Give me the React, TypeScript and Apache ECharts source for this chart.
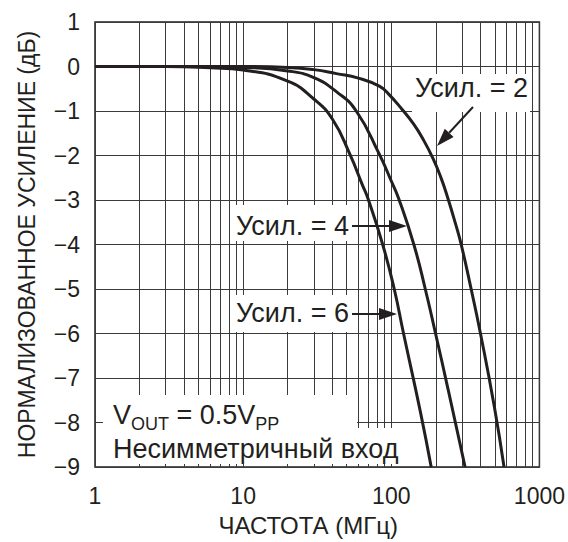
import React, { useEffect, useRef } from "react";
import * as echarts from "echarts";

const freqGain2 = [1, 10, 20, 30, 42.6, 60, 83, 96, 118, 141.3, 163.6, 191.5, 217.6, 241, 270.7, 296.5, 346, 400, 496, 577];
const valGain2 = [0, 0, -0.02, -0.07, -0.16, -0.26, -0.44, -0.62, -0.96, -1.29, -1.63, -2.07, -2.52, -2.96, -3.52, -4.0, -5.0, -6.0, -7.64, -9.0];

const freqGain4 = [1, 5, 10, 20, 30, 42.8, 58, 83, 100.5, 112, 142, 169.6, 199, 242, 315];
const valGain4 = [0, 0, -0.02, -0.1, -0.25, -0.57, -1.0, -1.97, -2.59, -2.96, -4.0, -5.0, -6.0, -7.26, -9.0];

const freqGain6 = [1, 3, 6, 10, 20, 30, 40, 52.5, 64, 69.5, 87.5, 104.7, 121, 157, 186];
const valGain6 = [0, 0, -0.03, -0.08, -0.33, -0.73, -1.18, -1.97, -2.67, -2.96, -4.0, -5.0, -6.0, -7.75, -9.0];

const minorFreqs = [2, 3, 4, 5, 6, 7, 8, 9, 20, 30, 40, 50, 60, 70, 80, 90, 200, 300, 400, 500, 600, 700, 800, 900];

const xTitle = "ЧАСТОТА (МГц)";
const yTitle = "НОРМАЛИЗОВАННОЕ УСИЛЕНИЕ (дБ)";
const label2 = "Усил. = 2";
const label4 = "Усил. = 4";
const label6 = "Усил. = 6";
const noteLine2 = "Несимметричный вход";

const INK = "#231f20";
const GRID = "#3a3a3a";
const FONT = "'Liberation Sans', Arial, sans-serif";

const pairs = (xs: number[], ys: number[]) => xs.map((x, i) => [x, ys[i]]);

export default function App() {
  const ref = useRef<HTMLDivElement>(null);
  useEffect(() => {
    if (!ref.current) return;
    const chart = echarts.init(ref.current, undefined, { renderer: "svg" });
    const curve = (name: string, data: number[][], extra: any = {}) => ({
      name,
      type: "line",
      data,
      smooth: 0.5,
      showSymbol: false,
      symbol: "none",
      lineStyle: { color: INK, width: 3 },
      z: 3,
      ...extra,
    });
    const textStyle = { fontSize: 27, fontFamily: FONT, fill: INK, align: "left", verticalAlign: "middle" };
    chart.setOption({
      animation: false,
      backgroundColor: "#fff",
      grid: { left: 95, right: 22, top: 22, bottom: 71, show: true, borderColor: INK, borderWidth: 1.5, backgroundColor: "transparent" },
      xAxis: {
        type: "log",
        logBase: 10,
        min: 1,
        max: 1000,
        name: xTitle,
        nameLocation: "middle",
        nameGap: 46,
        nameTextStyle: { fontSize: 24, fontFamily: FONT, color: INK, padding: [0, 18, 0, 0] },
        axisLine: { show: false },
        axisTick: { show: false },
        axisLabel: { fontSize: 23, fontFamily: FONT, color: INK, margin: 17, formatter: (v: number) => String(v) },
        splitLine: { show: true, lineStyle: { color: GRID, width: 1 } },
      },
      yAxis: {
        type: "value",
        min: -9,
        max: 1,
        interval: 1,
        name: yTitle,
        nameLocation: "middle",
        nameGap: 57,
        nameTextStyle: { fontSize: 23, fontFamily: FONT, color: INK },
        axisLine: { show: false },
        axisTick: { show: false },
        axisLabel: {
          fontSize: 23,
          fontFamily: FONT,
          color: INK,
          margin: 15,
          formatter: (v: number) => (v < 0 ? "\u2212" + Math.abs(v) : String(v)),
        },
        splitLine: { show: true, lineStyle: { color: GRID, width: 1 } },
      },
      series: [
        curve("Усил. = 6", pairs(freqGain6, valGain6), {
          markLine: {
            silent: true,
            z: 1,
            symbol: ["none", "none"],
            label: { show: false },
            lineStyle: { color: GRID, width: 1, type: "solid" },
            emphasis: { disabled: true },
            data: minorFreqs.map((f) => ({ xAxis: f })),
          },
        }),
        curve("Усил. = 4", pairs(freqGain4, valGain4)),
        curve("Усил. = 2", pairs(freqGain2, valGain2)),
      ],
      graphic: [
        { type: "rect", z: 10, shape: { x: 412, y: 74, width: 118, height: 38 }, style: { fill: "#fff" } },
        { type: "text", z: 11, x: 415, y: 88, style: { ...textStyle, text: label2 } },
        { type: "line", z: 11, shape: { x1: 473, y1: 107, x2: 449.2, y2: 132.8 }, style: { stroke: INK, lineWidth: 2 } },
        { type: "polygon", z: 11, shape: { points: [[437, 146], [453.6, 136.9], [444.8, 128.7]] }, style: { fill: INK } },

        { type: "rect", z: 10, shape: { x: 233, y: 205, width: 117, height: 36 }, style: { fill: "#fff" } },
        { type: "text", z: 11, x: 236, y: 226, style: { ...textStyle, text: label4 } },
        { type: "line", z: 11, shape: { x1: 352, y1: 226, x2: 390, y2: 226 }, style: { stroke: INK, lineWidth: 2 } },
        { type: "polygon", z: 11, shape: { points: [[407, 226], [389, 220], [389, 232]] }, style: { fill: INK } },

        { type: "rect", z: 10, shape: { x: 233, y: 295, width: 117, height: 37 }, style: { fill: "#fff" } },
        { type: "text", z: 11, x: 236, y: 313, style: { ...textStyle, text: label6 } },
        { type: "line", z: 11, shape: { x1: 352, y1: 314, x2: 380, y2: 314 }, style: { stroke: INK, lineWidth: 2 } },
        { type: "polygon", z: 11, shape: { points: [[397, 314], [379, 308], [379, 320]] }, style: { fill: INK } },

        { type: "rect", z: 10, shape: { x: 103, y: 395, width: 254, height: 33 }, style: { fill: "#fff" } },
        { type: "rect", z: 10, shape: { x: 103, y: 428, width: 297, height: 36 }, style: { fill: "#fff" } },
        {
          type: "text",
          z: 11,
          x: 113,
          y: 417,
          style: {
            text: "{v|V}{s|OUT}{v| = 0.5V}{s|PP}",
            fontFamily: FONT,
            fill: INK,
            align: "left",
            verticalAlign: "middle",
            rich: {
              v: { fontSize: 27, fontFamily: FONT, fill: INK, verticalAlign: "bottom", padding: [0, 0, 4, 0] },
              s: { fontSize: 18, fontFamily: FONT, fill: INK, verticalAlign: "bottom" },
            },
          },
        },
        { type: "text", z: 11, x: 113, y: 449, style: { ...textStyle, text: noteLine2 } },
      ],
    });
    return () => chart.dispose();
  }, []);
  return <div ref={ref} style={{ position: "absolute", left: 0, top: 0, width: 568, height: 542 }} />;
}
